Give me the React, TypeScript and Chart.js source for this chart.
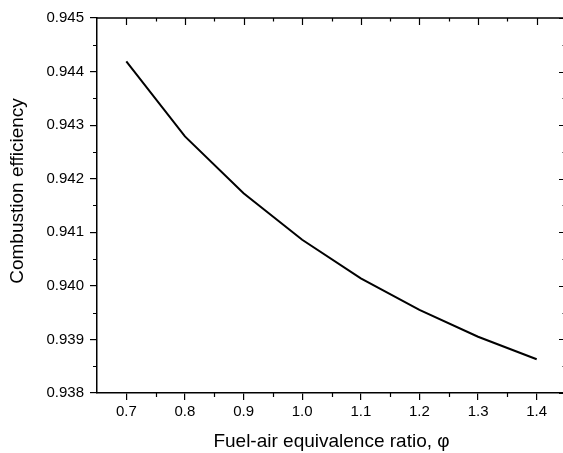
import React, { useEffect, useRef } from 'react';
import { Chart, registerables } from 'chart.js';

Chart.register(...registerables);

const phi = [0.7, 0.8, 0.9, 1.0, 1.1, 1.2, 1.3, 1.4];
const efficiency = [0.94419, 0.94279, 0.94173, 0.94086, 0.94014, 0.93955, 0.93905, 0.93863];
const xTicks = [0.7, 0.8, 0.9, 1.0, 1.1, 1.2, 1.3, 1.4];
const yTicks = [0.938, 0.939, 0.94, 0.941, 0.942, 0.943, 0.944, 0.945];
const xMinor = [0.75, 0.85, 0.95, 1.05, 1.15, 1.25, 1.35];
const yMinor = [0.9385, 0.9395, 0.9405, 0.9415, 0.9425, 0.9435, 0.9445];
const yTitle = 'Combustion efficiency';
const xTitle = 'Fuel-air equivalence ratio, \u03c6';

const FONT = '"Liberation Sans", Arial, sans-serif';

const framePlugin = {
  id: 'frame',
  afterDraw(chart: any) {
    const { ctx, chartArea } = chart;
    const xs = chart.scales.x;
    const ys = chart.scales.y;
    const { left, right, top, bottom } = chartArea;
    ctx.save();
    ctx.strokeStyle = '#000';
    ctx.lineWidth = 1.5;
    ctx.beginPath();
    ctx.moveTo(left, top);
    ctx.lineTo(right, top);
    ctx.lineTo(right, bottom);
    ctx.stroke();
    ctx.lineWidth = 1.2;
    ctx.beginPath();
    xTicks.forEach((v) => {
      const px = Math.round(xs.getPixelForValue(v)) + 0.5;
      ctx.moveTo(px, top);
      ctx.lineTo(px, top + 7);
    });
    xMinor.forEach((v) => {
      const px = Math.round(xs.getPixelForValue(v)) + 0.5;
      ctx.moveTo(px, top);
      ctx.lineTo(px, top + 3.5);
      ctx.moveTo(px, bottom);
      ctx.lineTo(px, bottom + 4);
    });
    yTicks.forEach((v) => {
      const py = Math.round(ys.getPixelForValue(v)) + 0.5;
      ctx.moveTo(right, py);
      ctx.lineTo(right - 7, py);
    });
    yMinor.forEach((v) => {
      const py = Math.round(ys.getPixelForValue(v)) + 0.5;
      ctx.moveTo(right, py);
      ctx.lineTo(right - 3.5, py);
      ctx.moveTo(left, py);
      ctx.lineTo(left - 4, py);
    });
    ctx.stroke();
    // y-axis title (positioned as in the original, slightly above centre)
    ctx.fillStyle = '#000';
    ctx.font = `19px ${FONT}`;
    ctx.textAlign = 'center';
    ctx.textBaseline = 'middle';
    ctx.translate(18, 191);
    ctx.rotate(-Math.PI / 2);
    ctx.fillText(yTitle, 0, 0);
    ctx.restore();
  },
};

export default function App() {
  const ref = useRef<HTMLCanvasElement | null>(null);
  useEffect(() => {
    if (!ref.current) return;
    const chart = new Chart(ref.current, {
      type: 'line',
      data: {
        datasets: [
          {
            data: phi.map((x, i) => ({ x, y: efficiency[i] })),
            borderColor: '#000',
            borderWidth: 2,
            pointRadius: 0,
            tension: 0,
            fill: false,
          },
        ],
      },
      options: {
        animation: false,
        responsive: false,
        maintainAspectRatio: false,
        devicePixelRatio: 1,
        layout: { padding: { left: 0, top: 18, right: 14, bottom: 0 } },
        plugins: { legend: { display: false }, tooltip: { enabled: false } },
        scales: {
          x: {
            type: 'linear',
            min: 0.65,
            max: 1.45,
            afterBuildTicks: (s: any) => {
              s.ticks = xTicks.map((v) => ({ value: v }));
            },
            afterFit: (s: any) => {
              s.height = 60;
            },
            ticks: {
              color: '#000',
              font: { family: FONT, size: 15 },
              padding: 3,
              maxRotation: 0,
              autoSkip: false,
              callback: (v: any) => Number(v).toFixed(1),
            },
            grid: {
              drawOnChartArea: false,
              drawTicks: true,
              tickLength: 7,
              color: '#000',
              lineWidth: 1.2,
            },
            border: { display: true, color: '#000', width: 1.5 },
            title: {
              display: true,
              text: xTitle,
              color: '#000',
              font: { family: FONT, size: 19 },
              padding: { top: 4, bottom: 0 },
            },
          },
          y: {
            type: 'linear',
            min: 0.938,
            max: 0.945,
            afterBuildTicks: (s: any) => {
              s.ticks = yTicks.map((v) => ({ value: v }));
            },
            afterFit: (s: any) => {
              s.width = 97;
            },
            ticks: {
              color: '#000',
              font: { family: FONT, size: 15 },
              padding: 6,
              autoSkip: false,
              callback: (v: any) => Number(v).toFixed(3),
            },
            grid: {
              drawOnChartArea: false,
              drawTicks: true,
              tickLength: 7,
              color: '#000',
              lineWidth: 1.2,
            },
            border: { display: true, color: '#000', width: 1.5 },
            title: { display: false },
          },
        },
      },
      plugins: [framePlugin],
    });
    return () => chart.destroy();
  }, []);
  return (
    <div
      style={{
        position: 'fixed',
        left: 0,
        top: 0,
        width: 563,
        height: 453,
        overflow: 'hidden',
        background: '#fff',
      }}
    >
      <canvas ref={ref} width={580} height={453} style={{ display: 'block', width: 580, height: 453 }} />
    </div>
  );
}
